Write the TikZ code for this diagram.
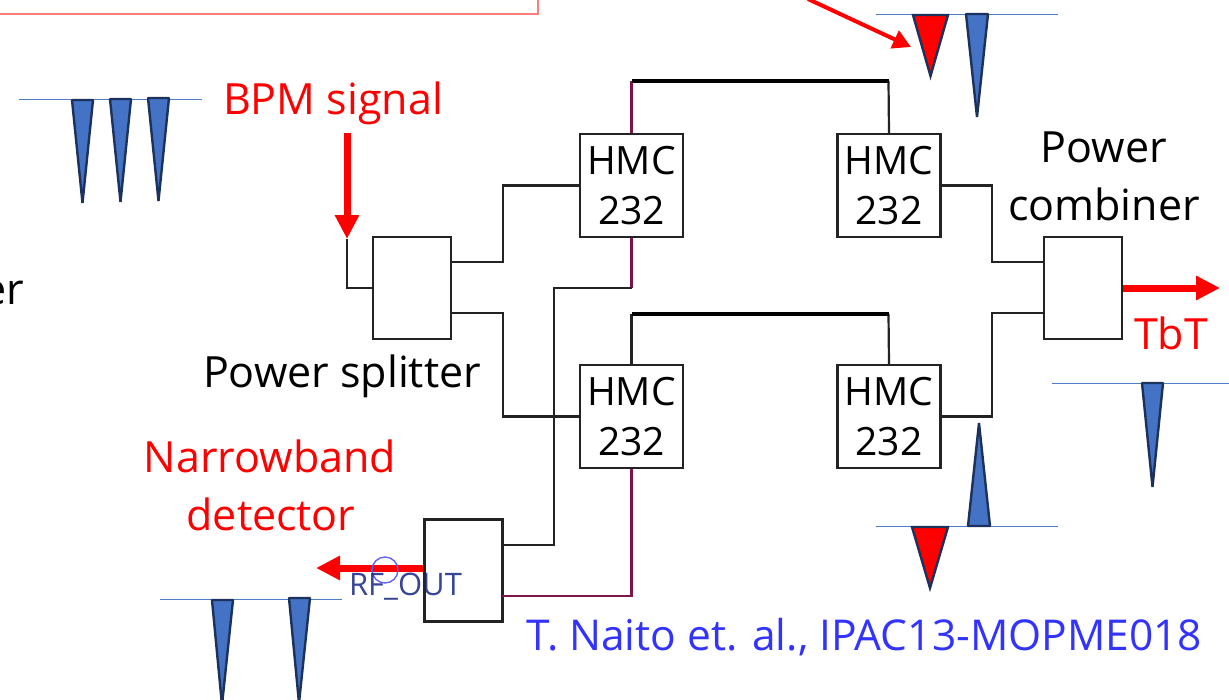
\documentclass[tikz,border=0pt]{standalone}
\usepackage{fontspec}
\setmainfont{Open Sans}
\usetikzlibrary{arrows.meta}
\definecolor{wiremag}{RGB}{125,20,75}
\definecolor{wireblk}{RGB}{35,35,35}
\definecolor{pulseblue}{RGB}{68,114,196}
\definecolor{pulseedge}{RGB}{28,50,92}
\definecolor{baseblue}{RGB}{80,125,200}
\definecolor{namedblue}{RGB}{51,51,255}
\definecolor{palered}{RGB}{255,125,125}
\tikzset{
  box/.style={draw=wireblk,line width=2.2pt,fill=white,inner sep=0pt,align=center,font=\fontsize{39}{50}\selectfont},
  hmc/.style={box,minimum width=103pt,minimum height=103pt},
  port/.style={box,minimum width=78pt,minimum height=102pt},
  wire/.style={draw=wireblk,line width=2.2pt},
  mwire/.style={draw=wiremag,line width=2.2pt},
  bus/.style={draw=black,line width=3.6pt},
  redarrow/.style={draw=red,line width=7pt,-{Triangle[length=24pt,width=23pt]}},
  redthin/.style={draw=red,line width=4pt,-{Triangle[length=18pt,width=19pt]}},
  blk/.style={font=\fontsize{43}{50}\selectfont,text=black,inner sep=0pt,align=center},
  redtxt/.style={font=\fontsize{43}{50}\selectfont,text=red,inner sep=0pt,align=center},
  pulse/.style={draw=pulseedge,fill=pulseblue,line width=2.4pt,line join=bevel},
  pulsered/.style={draw=pulseedge,fill=red,line width=2.4pt,line join=miter},
  base/.style={draw=baseblue,line width=1pt}
}
\begin{document}
\begin{tikzpicture}[x=1pt,y=-1pt]
\useasboundingbox (0,0) rectangle (1229,699);
% top box remnant
\draw[draw=palered,line width=2pt] (0,13.5) -- (537.5,13.5) -- (537.5,0);
% baselines
\draw[base] (19,99) -- (202,99);
\draw[base] (876,14) -- (1058,14);
\draw[base] (876,526) -- (1058,526);
\draw[base] (1052,383) -- (1229,383);
\draw[base] (160,599) -- (342,599);
% pulses
\draw[pulse] (72,100) -- (93,100) -- (82.5,203) -- cycle;
\draw[pulse] (110,99) -- (131,99) -- (120.5,202) -- cycle;
\draw[pulse] (148,98) -- (169,98) -- (158.5,201) -- cycle;
\draw[pulsered] (913,15) -- (948,15) -- (930.5,76) -- cycle;
\draw[pulse] (966,14) -- (988,14) -- (977,117) -- cycle;
\draw[pulsered] (912,527) -- (948,527) -- (930,588) -- cycle;
\draw[pulse] (968,526) -- (990,526) -- (979,423) -- cycle;
\draw[pulse] (1142,383) -- (1163,383) -- (1152.5,487) -- cycle;
\draw[pulse] (212,600) -- (233,600) -- (222,705) -- cycle;
\draw[pulse] (289,598) -- (310,598) -- (299,703) -- cycle;
% blocks
\node[port] (sp) at (412,288) {};
\node[port] (cb) at (1083,288) {};
\node[port] (det) at (463.5,570.5) {};
\node[hmc] (tl) at (631.5,185.5) {HMC\\232};
\node[hmc] (tr) at (889,185.5) {HMC\\232};
\node[hmc] (bl) at (631.5,416.5) {HMC\\232};
\node[hmc] (br) at (889,416.5) {HMC\\232};
% ports
\coordinate (spu) at (451,262);
\coordinate (spd) at (451,313);
\coordinate (spi) at (373,288);
\coordinate (cbu) at (1044,262);
\coordinate (cbd) at (1044,313);
\coordinate (detu) at (502,545);
\coordinate (detd) at (502,596);
\coordinate (in) at (347,239);
\coordinate (bpmtop) at (347,133);
\coordinate (tbtend) at (1220,288);
\coordinate (detend) at (316,568);
\coordinate (ptstart) at (808,-1);
\coordinate (ptend) at (911,47);
% connectors
\draw[wire] (in) -- (347,288) -- (spi);
\draw[wire] (spu) -- (503,262) -- (503,185.5) -- (tl.west);
\draw[wire] (spd) -- (503,313) -- (503,416.5) -- (bl.west);
\draw[mwire] (tl.north) -- (631.5,81);
\draw[wire] (tr.north) -- (888.5,81);
\draw[bus] (631.5,81) -- (888.5,81);
\draw[mwire] (tl.south) -- (631.5,288);
\draw[wire] (631.5,288) -- (554,288) -- (554,545) -- (detu);
\draw[wire] (bl.north) -- (631.5,314);
\draw[wire] (br.north) -- (888.5,314);
\draw[bus] (631.5,314) -- (888.5,314);
\draw[mwire] (bl.south) -- (631.5,596) -- (detd);
\draw[wire] (tr.east) -- (992,185.5) -- (992,262) -- (cbu);
\draw[wire] (br.east) -- (992,416.5) -- (992,313) -- (cbd);
% red arrows
\draw[redarrow] (bpmtop) -- (in);
\draw[redarrow] (cb.east) -- (tbtend);
\draw[redarrow] (det.west |- detend) -- (detend);
\draw[redthin] (ptstart) -- (ptend);
% RF_OUT
\node[draw=namedblue!80,line width=1.3pt,circle,minimum size=26pt,inner sep=0pt] (rfc) at (385,570) {};
\node[font=\fontsize{31}{35}\selectfont,text=pulseedge!75!blue,opacity=.85,inner sep=0pt,anchor=base] (rf) at (405.5,595) {RF\_OUT};
% texts
\node[redtxt,anchor=base] (bpm) at (333,114) {BPM signal};
\node[blk,anchor=base] (er) at (3,304) {er};
\node[blk,anchor=base] (pw1) at (1104,162) {Power};
\node[blk,anchor=base] (pw2) at (1104,220) {combiner};
\node[blk,anchor=base] (spl) at (342,387) {Power splitter};
\node[redtxt,anchor=base] (tbt) at (1171,349) {TbT};
\node[redtxt,anchor=base] (nb1) at (270,472) {Narrowband};
\node[redtxt,anchor=base] (nb2) at (271,530) {detector};
\node[font=\fontsize{42.5}{50}\selectfont,text=namedblue,inner sep=0pt,anchor=base] (ref) at (864,650) {T. Naito et. al., IPAC13-MOPME018};
\end{tikzpicture}
\end{document}
